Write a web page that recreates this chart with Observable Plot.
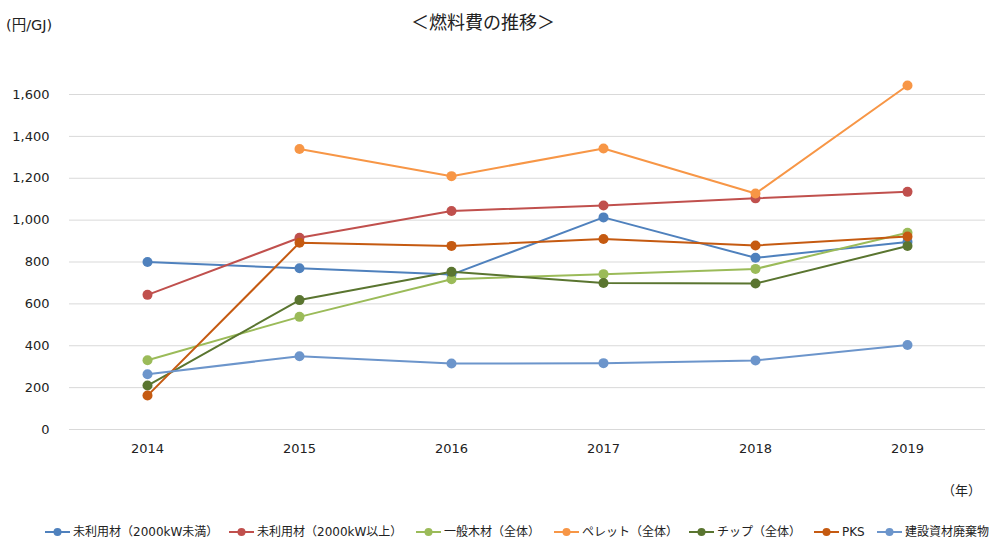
<!DOCTYPE html>
<html><head><meta charset="utf-8">
<script src="https://cdn.jsdelivr.net/npm/d3@7"></script>
<script src="https://cdn.jsdelivr.net/npm/@observablehq/plot@0.6"></script>
<style>
body{margin:0;background:#fff;width:1000px;height:554px;position:relative;overflow:hidden;font-family:"DejaVu Sans","Noto Sans CJK JP",sans-serif;color:#222;}
#title{position:absolute;left:0;width:966px;top:8px;text-align:center;font-family:"Noto Sans CJK JP";font-size:18px;}
#unit{position:absolute;left:6px;top:13px;font-family:"DejaVu Sans","Noto Sans CJK JP";font-size:14.5px;}
#year{position:absolute;left:942px;top:480px;font-family:"Noto Sans CJK JP";font-size:13px;}
#chart{position:absolute;left:0;top:0;}
#legend{position:absolute;left:0;top:523px;width:1000px;height:20px;font-size:12px;font-family:"DejaVu Sans","Noto Sans CJK JP";}
.item{position:absolute;top:0;height:18px;display:flex;align-items:center;gap:3px;white-space:nowrap;}
.item span{display:block;height:18px;line-height:18px;overflow:visible;}
</style></head><body>
<div id="chart"></div>
<div id="title">＜燃料費の推移＞</div>
<div id="unit">(円/GJ)</div>
<div id="year">（年）</div>
<div id="legend"></div>
<script>
const years = ["2014","2015","2016","2017","2018","2019"];
const seriesNames = ["未利用材（2000kW未満）","未利用材（2000kW以上）","一般木材（全体）","ペレット（全体）","チップ（全体）","PKS","建設資材廃棄物"];
const colors = ["#4F81BD","#C0504D","#9BBB59","#F79646","#5A7530","#C55A11","#6C95CB"];
const unusedSmall = [800, 770, 740, 1013, 820, 896];
const unusedLarge = [643, 916, 1044, 1070, 1104, 1135];
const generalWood = [331, 538, 718, 742, 767, 940];
const pellet = [null, 1340, 1210, 1342, 1127, 1643];
const chip = [210, 618, 753, 700, 697, 876];
const pks = [162, 892, 877, 910, 879, 922];
const construction = [264, 350, 315, 317, 330, 404];
const yTicks = [0,200,400,600,800,1000,1200,1400,1600];

// legend layout (left x of each legend entry)
const legendLeft = [45, 229, 416, 554, 689, 814, 877];

const seriesValues = [unusedSmall, unusedLarge, generalWood, pellet, chip, pks, construction];
const data = [];
seriesNames.forEach((s,i)=>years.forEach((y,j)=>{
  const v = seriesValues[i][j];
  if (v != null) data.push({series:s, year:y, value:v});
}));

const chart = Plot.plot({
  width:1000, height:510,
  marginLeft:69, marginRight:15, marginTop:94, marginBottom:81,
  style:{fontFamily:"DejaVu Sans", fontSize:"13px", color:"#222", background:"transparent"},
  x:{type:"point", domain:years, padding:0.5, label:null},
  y:{domain:[0,1600], label:null},
  color:{domain:seriesNames, range:colors},
  marks:[
    Plot.gridY(yTicks, {stroke:"#d9d9d9", strokeOpacity:1, strokeWidth:1}),
    Plot.axisY(yTicks, {tickSize:0, tickPadding:20, tickFormat:d3.format(","), label:null}),
    Plot.axisX({tickSize:0, tickPadding:14, label:null}),
    Plot.line(data, {x:"year", y:"value", z:"series", stroke:"series", strokeWidth:2}),
    Plot.dot(data, {x:"year", y:"value", fill:"series", r:5})
  ]
});
document.getElementById("chart").appendChild(chart);

const leg = document.getElementById("legend");
seriesNames.forEach((s,i)=>{
  const it = document.createElement("div"); it.className="item";
  it.style.left = legendLeft[i] + "px";
  it.innerHTML = `<svg width="25" height="10"><line x1="0" x2="25" y1="5" y2="5" stroke="${colors[i]}" stroke-width="2"/><circle cx="12.5" cy="5" r="4" fill="${colors[i]}"/></svg><span>${s}</span>`;
  leg.appendChild(it);
});
</script>
</body></html>
